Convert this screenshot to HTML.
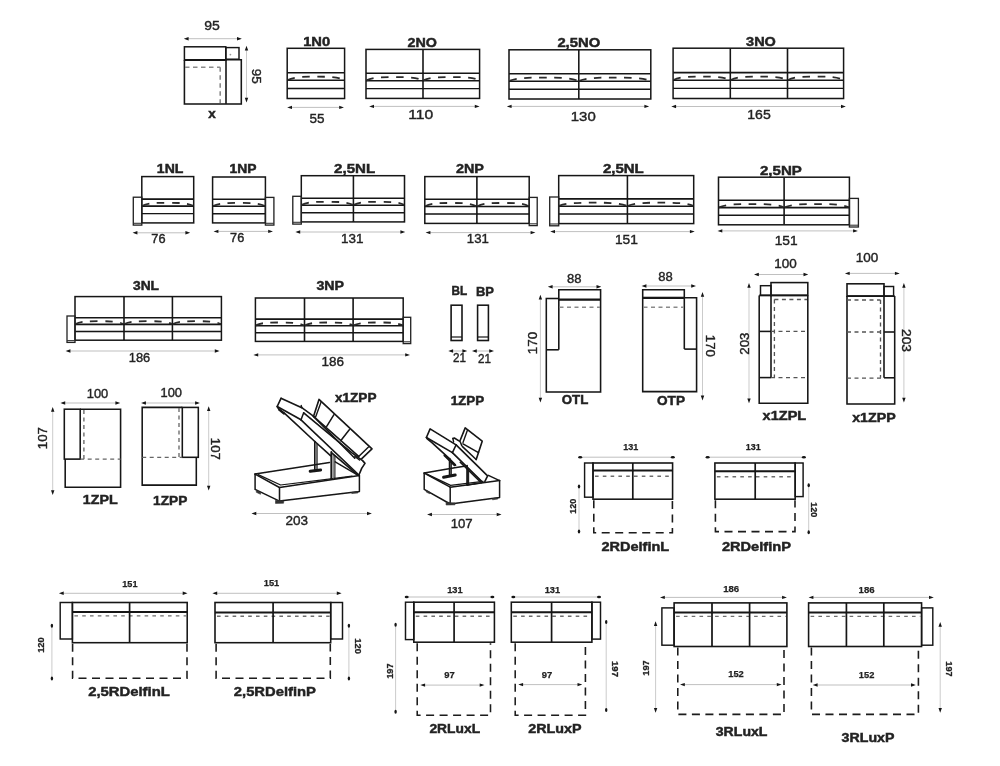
<!DOCTYPE html>
<html><head><meta charset="utf-8"><title>Modules</title>
<style>
html,body{margin:0;padding:0;background:#fff;}
body{width:1000px;height:766px;overflow:hidden;font-family:"Liberation Sans",sans-serif;}
svg{display:block;font-family:"Liberation Sans",sans-serif;}
</style></head>
<body>
<svg width="1000" height="766" viewBox="0 0 1000 766">
<defs><filter id="soft" x="-2%" y="-2%" width="104%" height="104%"><feGaussianBlur stdDeviation="0.45"/></filter></defs>
<rect width="1000" height="766" fill="#fff"/>
<g filter="url(#soft)">
<rect x="184.4" y="46.8" width="41.4" height="13.2" fill="none" stroke="#141414" stroke-width="1.50"/>
<rect x="225.8" y="47.6" width="13.2" height="11.6" fill="none" stroke="#141414" stroke-width="1.44"/>
<circle cx="230.4" cy="54.6" r="0.9" fill="#999"/>
<path d="M184.4,60 L184.4,104 L241.3,104 L241.3,59.8 L226,59.8 L226,104" fill="none" stroke="#141414" stroke-width="1.56" stroke-linejoin="miter"/>
<line x1="184.4" y1="60.0" x2="226.0" y2="60.0" stroke="#141414" stroke-width="2.16" stroke-linecap="butt"/>
<line x1="185.0" y1="67.2" x2="220.2" y2="67.2" stroke="#8a8a8a" stroke-width="1.56" stroke-dasharray="4.5 3.5" stroke-linecap="butt"/>
<line x1="220.2" y1="67.2" x2="220.2" y2="103.0" stroke="#8a8a8a" stroke-width="1.56" stroke-dasharray="4.5 3.5" stroke-linecap="butt"/>
<line x1="185.8" y1="38.7" x2="239.8" y2="38.7" stroke="#a5a5a5" stroke-width="0.70" stroke-linecap="butt"/>
<path d="M183.8,38.7 l4.8,-1.7 l0,3.4 z M241.8,38.7 l-4.8,-1.7 l0,3.4 z" fill="#141414"/>
<text x="212.0" y="30.0" font-size="13.2" stroke="#222" stroke-width="0.38" textLength="15.6" lengthAdjust="spacingAndGlyphs" text-anchor="middle" fill="#222">95</text>
<line x1="246.5" y1="47.7" x2="246.5" y2="100.5" stroke="#b5b5b5" stroke-width="0.70" stroke-linecap="butt"/>
<path d="M246.5,45.7 l-1.7,4.8 l3.4,0 z M246.5,102.5 l-1.7,-4.8 l3.4,0 z" fill="#141414"/>
<text transform="translate(257.0,76.2) rotate(90)" x="0" y="4.75" font-size="13.2" stroke="#222" stroke-width="0.38" textLength="15.0" lengthAdjust="spacingAndGlyphs" text-anchor="middle" fill="#222">95</text>
<text x="212.0" y="118.2" font-size="12" font-weight="700" stroke="#222" stroke-width="0.45" textLength="7.5" lengthAdjust="spacingAndGlyphs" text-anchor="middle" fill="#222">x</text>
<rect x="287.2" y="48.3" width="57.4" height="50.2" fill="none" stroke="#141414" stroke-width="1.50"/>
<line x1="287.2" y1="72.7" x2="344.6" y2="72.7" stroke="#141414" stroke-width="1.56" stroke-linecap="butt"/>
<line x1="287.2" y1="80.3" x2="344.6" y2="80.3" stroke="#141414" stroke-width="1.62" stroke-linecap="butt"/>
<line x1="287.2" y1="88.5" x2="344.6" y2="88.5" stroke="#141414" stroke-width="1.44" stroke-linecap="butt"/>
<path d="M287.7,80.0 C294.1,76.7 304.4,76.7 315.9,76.7 S337.7,76.7 344.1,80.0" fill="none" stroke="#2a2a2a" stroke-width="1.80" stroke-dasharray="7.5 7.5" stroke-linejoin="miter"/>
<text x="316.7" y="45.9" font-size="12.6" font-weight="700" stroke="#222" stroke-width="0.45" textLength="27.0" lengthAdjust="spacingAndGlyphs" text-anchor="middle" fill="#222">1N0</text>
<line x1="289.2" y1="107.4" x2="342.0" y2="107.4" stroke="#a5a5a5" stroke-width="0.70" stroke-linecap="butt"/>
<path d="M287.2,107.4 l4.8,-1.7 l0,3.4 z M344.0,107.4 l-4.8,-1.7 l0,3.4 z" fill="#141414"/>
<text x="317.0" y="123.0" font-size="13.2" stroke="#222" stroke-width="0.38" textLength="15.0" lengthAdjust="spacingAndGlyphs" text-anchor="middle" fill="#222">55</text>
<rect x="366.0" y="49.4" width="113.6" height="49.0" fill="none" stroke="#141414" stroke-width="1.50"/>
<line x1="366.0" y1="73.2" x2="479.6" y2="73.2" stroke="#141414" stroke-width="1.56" stroke-linecap="butt"/>
<line x1="366.0" y1="80.7" x2="479.6" y2="80.7" stroke="#141414" stroke-width="1.62" stroke-linecap="butt"/>
<line x1="366.0" y1="88.6" x2="479.6" y2="88.6" stroke="#141414" stroke-width="1.44" stroke-linecap="butt"/>
<line x1="423.0" y1="49.4" x2="423.0" y2="98.4" stroke="#141414" stroke-width="1.56" stroke-linecap="butt"/>
<path d="M366.5,80.4 C372.8,77.1 383.1,77.1 394.5,77.1 S416.2,77.1 422.5,80.4" fill="none" stroke="#2a2a2a" stroke-width="1.80" stroke-dasharray="7.5 7.5" stroke-linejoin="miter"/>
<path d="M423.5,80.4 C429.8,77.1 440.0,77.1 451.3,77.1 S472.8,77.1 479.1,80.4" fill="none" stroke="#2a2a2a" stroke-width="1.80" stroke-dasharray="7.5 7.5" stroke-linejoin="miter"/>
<text x="422.3" y="47.0" font-size="12.6" font-weight="700" stroke="#222" stroke-width="0.45" textLength="29.4" lengthAdjust="spacingAndGlyphs" text-anchor="middle" fill="#222">2NO</text>
<line x1="371.2" y1="106.4" x2="477.6" y2="106.4" stroke="#a5a5a5" stroke-width="0.70" stroke-linecap="butt"/>
<path d="M369.2,106.4 l4.8,-1.7 l0,3.4 z M479.6,106.4 l-4.8,-1.7 l0,3.4 z" fill="#141414"/>
<text x="420.7" y="119.0" font-size="13.2" stroke="#222" stroke-width="0.38" textLength="25.0" lengthAdjust="spacingAndGlyphs" text-anchor="middle" fill="#222">110</text>
<rect x="509.0" y="49.8" width="141.8" height="49.2" fill="none" stroke="#141414" stroke-width="1.50"/>
<line x1="509.0" y1="73.7" x2="650.8" y2="73.7" stroke="#141414" stroke-width="1.56" stroke-linecap="butt"/>
<line x1="509.0" y1="81.2" x2="650.8" y2="81.2" stroke="#141414" stroke-width="1.62" stroke-linecap="butt"/>
<line x1="509.0" y1="89.2" x2="650.8" y2="89.2" stroke="#141414" stroke-width="1.44" stroke-linecap="butt"/>
<line x1="578.8" y1="49.8" x2="578.8" y2="99.0" stroke="#141414" stroke-width="1.56" stroke-linecap="butt"/>
<path d="M509.5,80.9 C517.4,77.6 529.9,77.6 543.9,77.6 S570.4,77.6 578.3,80.9" fill="none" stroke="#2a2a2a" stroke-width="1.80" stroke-dasharray="7.5 7.5" stroke-linejoin="miter"/>
<path d="M579.3,80.9 C587.4,77.6 600.4,77.6 614.8,77.6 S642.2,77.6 650.3,80.9" fill="none" stroke="#2a2a2a" stroke-width="1.80" stroke-dasharray="7.5 7.5" stroke-linejoin="miter"/>
<text x="578.8" y="46.6" font-size="12.6" font-weight="700" stroke="#222" stroke-width="0.45" textLength="42.8" lengthAdjust="spacingAndGlyphs" text-anchor="middle" fill="#222">2,5NO</text>
<line x1="508.8" y1="106.4" x2="647.2" y2="106.4" stroke="#a5a5a5" stroke-width="0.70" stroke-linecap="butt"/>
<path d="M506.8,106.4 l4.8,-1.7 l0,3.4 z M649.2,106.4 l-4.8,-1.7 l0,3.4 z" fill="#141414"/>
<text x="583.3" y="120.5" font-size="13.2" stroke="#222" stroke-width="0.38" textLength="25.0" lengthAdjust="spacingAndGlyphs" text-anchor="middle" fill="#222">130</text>
<rect x="673.1" y="48.2" width="170.5" height="50.3" fill="none" stroke="#141414" stroke-width="1.50"/>
<line x1="673.1" y1="72.6" x2="843.6" y2="72.6" stroke="#141414" stroke-width="1.56" stroke-linecap="butt"/>
<line x1="673.1" y1="80.3" x2="843.6" y2="80.3" stroke="#141414" stroke-width="1.62" stroke-linecap="butt"/>
<line x1="673.1" y1="88.4" x2="843.6" y2="88.4" stroke="#141414" stroke-width="1.44" stroke-linecap="butt"/>
<line x1="730.3" y1="48.2" x2="730.3" y2="98.5" stroke="#141414" stroke-width="1.56" stroke-linecap="butt"/>
<line x1="787.5" y1="48.2" x2="787.5" y2="98.5" stroke="#141414" stroke-width="1.56" stroke-linecap="butt"/>
<path d="M673.6,80.0 C680.0,76.6 690.3,76.6 701.7,76.6 S723.4,76.6 729.8,80.0" fill="none" stroke="#2a2a2a" stroke-width="1.80" stroke-dasharray="7.5 7.5" stroke-linejoin="miter"/>
<path d="M730.8,80.0 C737.2,76.6 747.5,76.6 758.9,76.6 S780.6,76.6 787.0,80.0" fill="none" stroke="#2a2a2a" stroke-width="1.80" stroke-dasharray="7.5 7.5" stroke-linejoin="miter"/>
<path d="M788.0,80.0 C794.2,76.6 804.3,76.6 815.5,76.6 S836.9,76.6 843.1,80.0" fill="none" stroke="#2a2a2a" stroke-width="1.80" stroke-dasharray="7.5 7.5" stroke-linejoin="miter"/>
<text x="761.0" y="46.4" font-size="12.6" font-weight="700" stroke="#222" stroke-width="0.45" textLength="29.8" lengthAdjust="spacingAndGlyphs" text-anchor="middle" fill="#222">3NO</text>
<line x1="673.3" y1="106.5" x2="843.8" y2="106.5" stroke="#a5a5a5" stroke-width="0.70" stroke-linecap="butt"/>
<path d="M671.3,106.5 l4.8,-1.7 l0,3.4 z M845.8,106.5 l-4.8,-1.7 l0,3.4 z" fill="#141414"/>
<text x="759.0" y="118.8" font-size="13.2" stroke="#222" stroke-width="0.38" textLength="23.5" lengthAdjust="spacingAndGlyphs" text-anchor="middle" fill="#222">165</text>
<rect x="141.8" y="176.6" width="51.9" height="46.3" fill="none" stroke="#141414" stroke-width="1.50"/>
<line x1="141.8" y1="199.1" x2="193.7" y2="199.1" stroke="#141414" stroke-width="1.56" stroke-linecap="butt"/>
<line x1="141.8" y1="206.1" x2="193.7" y2="206.1" stroke="#141414" stroke-width="1.62" stroke-linecap="butt"/>
<line x1="141.8" y1="213.6" x2="193.7" y2="213.6" stroke="#141414" stroke-width="1.44" stroke-linecap="butt"/>
<path d="M142.3,205.8 C148.0,202.8 157.4,202.8 167.8,202.8 S187.5,202.8 193.2,205.8" fill="none" stroke="#2a2a2a" stroke-width="1.80" stroke-dasharray="7.5 7.5" stroke-linejoin="miter"/>
<rect x="133.3" y="197.2" width="8.5" height="27.9" fill="none" stroke="#222" stroke-width="1.32"/>
<line x1="133.3" y1="223.3" x2="141.8" y2="223.3" stroke="#333" stroke-width="1.08" stroke-linecap="butt"/>
<text x="170.1" y="172.7" font-size="12.6" font-weight="700" stroke="#222" stroke-width="0.45" textLength="26.5" lengthAdjust="spacingAndGlyphs" text-anchor="middle" fill="#222">1NL</text>
<line x1="134.6" y1="232.8" x2="188.2" y2="232.8" stroke="#a5a5a5" stroke-width="0.70" stroke-linecap="butt"/>
<path d="M132.6,232.8 l4.8,-1.7 l0,3.4 z M190.2,232.8 l-4.8,-1.7 l0,3.4 z" fill="#141414"/>
<text x="158.4" y="243.0" font-size="13.2" stroke="#222" stroke-width="0.38" textLength="14.2" lengthAdjust="spacingAndGlyphs" text-anchor="middle" fill="#222">76</text>
<rect x="212.6" y="177.0" width="52.8" height="45.9" fill="none" stroke="#141414" stroke-width="1.50"/>
<line x1="212.6" y1="199.3" x2="265.4" y2="199.3" stroke="#141414" stroke-width="1.56" stroke-linecap="butt"/>
<line x1="212.6" y1="206.3" x2="265.4" y2="206.3" stroke="#141414" stroke-width="1.62" stroke-linecap="butt"/>
<line x1="212.6" y1="213.7" x2="265.4" y2="213.7" stroke="#141414" stroke-width="1.44" stroke-linecap="butt"/>
<path d="M213.1,206.0 C218.9,202.9 228.4,202.9 239.0,202.9 S259.1,202.9 264.9,206.0" fill="none" stroke="#2a2a2a" stroke-width="1.80" stroke-dasharray="7.5 7.5" stroke-linejoin="miter"/>
<rect x="265.4" y="197.4" width="8.5" height="27.7" fill="none" stroke="#222" stroke-width="1.32"/>
<line x1="265.4" y1="223.3" x2="273.9" y2="223.3" stroke="#333" stroke-width="1.08" stroke-linecap="butt"/>
<text x="243.0" y="173.0" font-size="12.6" font-weight="700" stroke="#222" stroke-width="0.45" textLength="27.0" lengthAdjust="spacingAndGlyphs" text-anchor="middle" fill="#222">1NP</text>
<line x1="215.6" y1="231.4" x2="271.0" y2="231.4" stroke="#a5a5a5" stroke-width="0.70" stroke-linecap="butt"/>
<path d="M213.6,231.4 l4.8,-1.7 l0,3.4 z M273.0,231.4 l-4.8,-1.7 l0,3.4 z" fill="#141414"/>
<text x="237.2" y="242.0" font-size="13.2" stroke="#222" stroke-width="0.38" textLength="14.2" lengthAdjust="spacingAndGlyphs" text-anchor="middle" fill="#222">76</text>
<rect x="301.3" y="175.7" width="103.2" height="46.2" fill="none" stroke="#141414" stroke-width="1.50"/>
<line x1="301.3" y1="198.2" x2="404.5" y2="198.2" stroke="#141414" stroke-width="1.56" stroke-linecap="butt"/>
<line x1="301.3" y1="205.2" x2="404.5" y2="205.2" stroke="#141414" stroke-width="1.62" stroke-linecap="butt"/>
<line x1="301.3" y1="212.7" x2="404.5" y2="212.7" stroke="#141414" stroke-width="1.44" stroke-linecap="butt"/>
<line x1="353.4" y1="175.7" x2="353.4" y2="221.9" stroke="#141414" stroke-width="1.56" stroke-linecap="butt"/>
<path d="M301.8,204.9 C307.6,201.8 316.9,201.8 327.4,201.8 S347.1,201.8 352.9,204.9" fill="none" stroke="#2a2a2a" stroke-width="1.80" stroke-dasharray="7.5 7.5" stroke-linejoin="miter"/>
<path d="M353.9,204.9 C359.5,201.8 368.7,201.8 378.9,201.8 S398.4,201.8 404.0,204.9" fill="none" stroke="#2a2a2a" stroke-width="1.80" stroke-dasharray="7.5 7.5" stroke-linejoin="miter"/>
<rect x="292.8" y="196.3" width="8.5" height="27.8" fill="none" stroke="#222" stroke-width="1.32"/>
<line x1="292.8" y1="222.3" x2="301.3" y2="222.3" stroke="#333" stroke-width="1.08" stroke-linecap="butt"/>
<text x="354.6" y="172.7" font-size="12.6" font-weight="700" stroke="#222" stroke-width="0.45" textLength="41.0" lengthAdjust="spacingAndGlyphs" text-anchor="middle" fill="#222">2,5NL</text>
<line x1="297.4" y1="232.0" x2="403.2" y2="232.0" stroke="#a5a5a5" stroke-width="0.70" stroke-linecap="butt"/>
<path d="M295.4,232.0 l4.8,-1.7 l0,3.4 z M405.2,232.0 l-4.8,-1.7 l0,3.4 z" fill="#141414"/>
<text x="352.3" y="243.2" font-size="13.2" stroke="#222" stroke-width="0.38" textLength="22.5" lengthAdjust="spacingAndGlyphs" text-anchor="middle" fill="#222">131</text>
<rect x="424.8" y="176.6" width="104.4" height="46.8" fill="none" stroke="#141414" stroke-width="1.50"/>
<line x1="424.8" y1="199.3" x2="529.2" y2="199.3" stroke="#141414" stroke-width="1.56" stroke-linecap="butt"/>
<line x1="424.8" y1="206.5" x2="529.2" y2="206.5" stroke="#141414" stroke-width="1.62" stroke-linecap="butt"/>
<line x1="424.8" y1="214.0" x2="529.2" y2="214.0" stroke="#141414" stroke-width="1.44" stroke-linecap="butt"/>
<line x1="476.9" y1="176.6" x2="476.9" y2="223.4" stroke="#141414" stroke-width="1.56" stroke-linecap="butt"/>
<path d="M425.3,206.2 C431.1,203.0 440.4,203.0 450.9,203.0 S470.6,203.0 476.4,206.2" fill="none" stroke="#2a2a2a" stroke-width="1.80" stroke-dasharray="7.5 7.5" stroke-linejoin="miter"/>
<path d="M477.4,206.2 C483.2,203.0 492.6,203.0 503.1,203.0 S522.9,203.0 528.7,206.2" fill="none" stroke="#2a2a2a" stroke-width="1.80" stroke-dasharray="7.5 7.5" stroke-linejoin="miter"/>
<rect x="529.2" y="197.4" width="8.0" height="28.2" fill="none" stroke="#222" stroke-width="1.32"/>
<line x1="529.2" y1="223.8" x2="537.2" y2="223.8" stroke="#333" stroke-width="1.08" stroke-linecap="butt"/>
<text x="469.9" y="173.0" font-size="12.6" font-weight="700" stroke="#222" stroke-width="0.45" textLength="28.0" lengthAdjust="spacingAndGlyphs" text-anchor="middle" fill="#222">2NP</text>
<line x1="427.6" y1="232.6" x2="533.4" y2="232.6" stroke="#a5a5a5" stroke-width="0.70" stroke-linecap="butt"/>
<path d="M425.6,232.6 l4.8,-1.7 l0,3.4 z M535.4,232.6 l-4.8,-1.7 l0,3.4 z" fill="#141414"/>
<text x="477.8" y="243.4" font-size="13.2" stroke="#222" stroke-width="0.38" textLength="22.0" lengthAdjust="spacingAndGlyphs" text-anchor="middle" fill="#222">131</text>
<rect x="558.7" y="175.6" width="135.0" height="48.0" fill="none" stroke="#141414" stroke-width="1.50"/>
<line x1="558.7" y1="198.9" x2="693.7" y2="198.9" stroke="#141414" stroke-width="1.56" stroke-linecap="butt"/>
<line x1="558.7" y1="206.2" x2="693.7" y2="206.2" stroke="#141414" stroke-width="1.62" stroke-linecap="butt"/>
<line x1="558.7" y1="214.0" x2="693.7" y2="214.0" stroke="#141414" stroke-width="1.44" stroke-linecap="butt"/>
<line x1="627.4" y1="175.6" x2="627.4" y2="223.6" stroke="#141414" stroke-width="1.56" stroke-linecap="butt"/>
<path d="M559.2,205.9 C566.9,202.7 579.3,202.7 593.0,202.7 S619.2,202.7 626.9,205.9" fill="none" stroke="#2a2a2a" stroke-width="1.80" stroke-dasharray="7.5 7.5" stroke-linejoin="miter"/>
<path d="M627.9,205.9 C635.4,202.7 647.3,202.7 660.5,202.7 S685.7,202.7 693.2,205.9" fill="none" stroke="#2a2a2a" stroke-width="1.80" stroke-dasharray="7.5 7.5" stroke-linejoin="miter"/>
<rect x="549.7" y="197.0" width="9.0" height="28.8" fill="none" stroke="#222" stroke-width="1.32"/>
<line x1="549.7" y1="224.0" x2="558.7" y2="224.0" stroke="#333" stroke-width="1.08" stroke-linecap="butt"/>
<text x="623.3" y="173.0" font-size="12.6" font-weight="700" stroke="#222" stroke-width="0.45" textLength="40.8" lengthAdjust="spacingAndGlyphs" text-anchor="middle" fill="#222">2,5NL</text>
<line x1="552.2" y1="231.6" x2="692.7" y2="231.6" stroke="#a5a5a5" stroke-width="0.70" stroke-linecap="butt"/>
<path d="M550.2,231.6 l4.8,-1.7 l0,3.4 z M694.7,231.6 l-4.8,-1.7 l0,3.4 z" fill="#141414"/>
<text x="626.4" y="243.6" font-size="13.2" stroke="#222" stroke-width="0.38" textLength="23.0" lengthAdjust="spacingAndGlyphs" text-anchor="middle" fill="#222">151</text>
<rect x="718.5" y="177.2" width="130.9" height="47.6" fill="none" stroke="#141414" stroke-width="1.50"/>
<line x1="718.5" y1="200.3" x2="849.4" y2="200.3" stroke="#141414" stroke-width="1.56" stroke-linecap="butt"/>
<line x1="718.5" y1="207.6" x2="849.4" y2="207.6" stroke="#141414" stroke-width="1.62" stroke-linecap="butt"/>
<line x1="718.5" y1="215.3" x2="849.4" y2="215.3" stroke="#141414" stroke-width="1.44" stroke-linecap="butt"/>
<line x1="784.1" y1="177.2" x2="784.1" y2="224.8" stroke="#141414" stroke-width="1.56" stroke-linecap="butt"/>
<path d="M719.0,207.3 C726.4,204.1 738.2,204.1 751.3,204.1 S776.2,204.1 783.6,207.3" fill="none" stroke="#2a2a2a" stroke-width="1.80" stroke-dasharray="7.5 7.5" stroke-linejoin="miter"/>
<path d="M784.6,207.3 C791.9,204.1 803.7,204.1 816.8,204.1 S841.6,204.1 848.9,207.3" fill="none" stroke="#2a2a2a" stroke-width="1.80" stroke-dasharray="7.5 7.5" stroke-linejoin="miter"/>
<rect x="849.4" y="198.4" width="9.0" height="28.6" fill="none" stroke="#222" stroke-width="1.32"/>
<line x1="849.4" y1="225.2" x2="858.4" y2="225.2" stroke="#333" stroke-width="1.08" stroke-linecap="butt"/>
<text x="780.9" y="174.5" font-size="12.6" font-weight="700" stroke="#222" stroke-width="0.45" textLength="41.8" lengthAdjust="spacingAndGlyphs" text-anchor="middle" fill="#222">2,5NP</text>
<line x1="719.5" y1="230.9" x2="855.9" y2="230.9" stroke="#a5a5a5" stroke-width="0.70" stroke-linecap="butt"/>
<path d="M717.5,230.9 l4.8,-1.7 l0,3.4 z M857.9,230.9 l-4.8,-1.7 l0,3.4 z" fill="#141414"/>
<text x="786.2" y="245.2" font-size="13.2" stroke="#222" stroke-width="0.38" textLength="23.0" lengthAdjust="spacingAndGlyphs" text-anchor="middle" fill="#222">151</text>
<rect x="75.0" y="296.6" width="146.4" height="43.6" fill="none" stroke="#141414" stroke-width="1.50"/>
<line x1="75.0" y1="317.8" x2="221.4" y2="317.8" stroke="#141414" stroke-width="1.56" stroke-linecap="butt"/>
<line x1="75.0" y1="324.4" x2="221.4" y2="324.4" stroke="#141414" stroke-width="1.62" stroke-linecap="butt"/>
<line x1="75.0" y1="331.5" x2="221.4" y2="331.5" stroke="#141414" stroke-width="1.44" stroke-linecap="butt"/>
<line x1="124.0" y1="296.6" x2="124.0" y2="340.2" stroke="#141414" stroke-width="1.56" stroke-linecap="butt"/>
<line x1="172.4" y1="296.6" x2="172.4" y2="340.2" stroke="#141414" stroke-width="1.56" stroke-linecap="butt"/>
<path d="M75.5,324.1 C80.9,321.2 89.7,321.2 99.5,321.2 S118.1,321.2 123.5,324.1" fill="none" stroke="#2a2a2a" stroke-width="1.80" stroke-dasharray="7.5 7.5" stroke-linejoin="miter"/>
<path d="M124.5,324.1 C129.8,321.2 138.5,321.2 148.2,321.2 S166.6,321.2 171.9,324.1" fill="none" stroke="#2a2a2a" stroke-width="1.80" stroke-dasharray="7.5 7.5" stroke-linejoin="miter"/>
<path d="M172.9,324.1 C178.3,321.2 187.1,321.2 196.9,321.2 S215.5,321.2 220.9,324.1" fill="none" stroke="#2a2a2a" stroke-width="1.80" stroke-dasharray="7.5 7.5" stroke-linejoin="miter"/>
<rect x="67.0" y="316.0" width="8.0" height="26.4" fill="none" stroke="#222" stroke-width="1.32"/>
<line x1="67.0" y1="340.6" x2="75.0" y2="340.6" stroke="#333" stroke-width="1.08" stroke-linecap="butt"/>
<text x="146.0" y="290.0" font-size="12.6" font-weight="700" stroke="#222" stroke-width="0.45" textLength="26.0" lengthAdjust="spacingAndGlyphs" text-anchor="middle" fill="#222">3NL</text>
<line x1="67.6" y1="351.0" x2="217.6" y2="351.0" stroke="#a5a5a5" stroke-width="0.70" stroke-linecap="butt"/>
<path d="M65.6,351.0 l4.8,-1.7 l0,3.4 z M219.6,351.0 l-4.8,-1.7 l0,3.4 z" fill="#141414"/>
<text x="139.5" y="361.8" font-size="13.2" stroke="#222" stroke-width="0.38" textLength="21.5" lengthAdjust="spacingAndGlyphs" text-anchor="middle" fill="#222">186</text>
<rect x="255.4" y="298.0" width="147.8" height="43.4" fill="none" stroke="#141414" stroke-width="1.50"/>
<line x1="255.4" y1="319.1" x2="403.2" y2="319.1" stroke="#141414" stroke-width="1.56" stroke-linecap="butt"/>
<line x1="255.4" y1="325.7" x2="403.2" y2="325.7" stroke="#141414" stroke-width="1.62" stroke-linecap="butt"/>
<line x1="255.4" y1="332.7" x2="403.2" y2="332.7" stroke="#141414" stroke-width="1.44" stroke-linecap="butt"/>
<line x1="304.5" y1="298.0" x2="304.5" y2="341.4" stroke="#141414" stroke-width="1.56" stroke-linecap="butt"/>
<line x1="353.1" y1="298.0" x2="353.1" y2="341.4" stroke="#141414" stroke-width="1.56" stroke-linecap="butt"/>
<path d="M255.9,325.4 C261.3,322.5 270.1,322.5 279.9,322.5 S298.6,322.5 304.0,325.4" fill="none" stroke="#2a2a2a" stroke-width="1.80" stroke-dasharray="7.5 7.5" stroke-linejoin="miter"/>
<path d="M305.0,325.4 C310.3,322.5 319.1,322.5 328.8,322.5 S347.3,322.5 352.6,325.4" fill="none" stroke="#2a2a2a" stroke-width="1.80" stroke-dasharray="7.5 7.5" stroke-linejoin="miter"/>
<path d="M353.6,325.4 C359.1,322.5 368.1,322.5 378.1,322.5 S397.2,322.5 402.7,325.4" fill="none" stroke="#2a2a2a" stroke-width="1.80" stroke-dasharray="7.5 7.5" stroke-linejoin="miter"/>
<rect x="403.2" y="317.3" width="7.5" height="26.3" fill="none" stroke="#222" stroke-width="1.32"/>
<line x1="403.2" y1="341.8" x2="410.7" y2="341.8" stroke="#333" stroke-width="1.08" stroke-linecap="butt"/>
<text x="330.2" y="289.6" font-size="12.6" font-weight="700" stroke="#222" stroke-width="0.45" textLength="27.6" lengthAdjust="spacingAndGlyphs" text-anchor="middle" fill="#222">3NP</text>
<line x1="255.4" y1="354.9" x2="408.0" y2="354.9" stroke="#a5a5a5" stroke-width="0.70" stroke-linecap="butt"/>
<path d="M253.4,354.9 l4.8,-1.7 l0,3.4 z M410.0,354.9 l-4.8,-1.7 l0,3.4 z" fill="#141414"/>
<text x="332.8" y="366.2" font-size="13.2" stroke="#222" stroke-width="0.38" textLength="22.5" lengthAdjust="spacingAndGlyphs" text-anchor="middle" fill="#222">186</text>
<rect x="451.1" y="305.2" width="10.9" height="35.3" fill="none" stroke="#141414" stroke-width="1.56"/>
<line x1="451.1" y1="337.0" x2="462.0" y2="337.0" stroke="#141414" stroke-width="1.20" stroke-linecap="butt"/>
<rect x="477.6" y="305.2" width="10.8" height="35.3" fill="none" stroke="#141414" stroke-width="1.56"/>
<line x1="477.6" y1="337.0" x2="488.4" y2="337.0" stroke="#141414" stroke-width="1.20" stroke-linecap="butt"/>
<text x="459.4" y="295.0" font-size="12.6" font-weight="700" stroke="#222" stroke-width="0.45" textLength="15.7" lengthAdjust="spacingAndGlyphs" text-anchor="middle" fill="#222">BL</text>
<text x="485.0" y="296.0" font-size="12.6" font-weight="700" stroke="#222" stroke-width="0.45" textLength="18.0" lengthAdjust="spacingAndGlyphs" text-anchor="middle" fill="#222">BP</text>
<line x1="450.3" y1="351.0" x2="465.2" y2="351.0" stroke="#a5a5a5" stroke-width="0.70" stroke-linecap="butt"/>
<path d="M448.3,351.0 l4.8,-1.7 l0,3.4 z M467.2,351.0 l-4.8,-1.7 l0,3.4 z" fill="#141414"/>
<line x1="474.0" y1="351.0" x2="492.0" y2="351.0" stroke="#a5a5a5" stroke-width="0.70" stroke-linecap="butt"/>
<path d="M472.0,351.0 l4.8,-1.7 l0,3.4 z M494.0,351.0 l-4.8,-1.7 l0,3.4 z" fill="#141414"/>
<text x="459.4" y="361.6" font-size="13.2" stroke="#222" stroke-width="0.38" textLength="13.0" lengthAdjust="spacingAndGlyphs" text-anchor="middle" fill="#222">21</text>
<text x="484.5" y="363.0" font-size="13.2" stroke="#222" stroke-width="0.38" textLength="13.0" lengthAdjust="spacingAndGlyphs" text-anchor="middle" fill="#222">21</text>
<path d="M558.8,349.8 L558.8,289.7 L600.6,289.7 L600.6,392 L546.3,392 L546.3,298.5 L558.8,298.5" fill="none" stroke="#141414" stroke-width="1.56" stroke-linejoin="miter"/>
<line x1="546.3" y1="349.8" x2="558.8" y2="349.8" stroke="#141414" stroke-width="1.56" stroke-linecap="butt"/>
<line x1="558.8" y1="299.6" x2="600.6" y2="299.6" stroke="#141414" stroke-width="2.40" stroke-linecap="butt"/>
<line x1="559.5" y1="307.3" x2="600.0" y2="307.3" stroke="#8a8a8a" stroke-width="1.44" stroke-dasharray="4 3.5" stroke-linecap="butt"/>
<line x1="549.8" y1="286.8" x2="599.3" y2="286.8" stroke="#a5a5a5" stroke-width="0.70" stroke-linecap="butt"/>
<path d="M547.8,286.8 l4.8,-1.7 l0,3.4 z M601.3,286.8 l-4.8,-1.7 l0,3.4 z" fill="#141414"/>
<text x="574.2" y="283.2" font-size="12.6" stroke="#222" stroke-width="0.38" textLength="14.5" lengthAdjust="spacingAndGlyphs" text-anchor="middle" fill="#222">88</text>
<line x1="540.4" y1="296.8" x2="540.4" y2="400.6" stroke="#b5b5b5" stroke-width="0.70" stroke-linecap="butt"/>
<path d="M540.4,294.8 l-1.7,4.8 l3.4,0 z M540.4,402.6 l-1.7,-4.8 l3.4,0 z" fill="#141414"/>
<text transform="translate(532.0,343.0) rotate(-90)" x="0" y="4.54" font-size="12.6" stroke="#222" stroke-width="0.38" textLength="22.5" lengthAdjust="spacingAndGlyphs" text-anchor="middle" fill="#222">170</text>
<text x="575.0" y="404.2" font-size="12.6" font-weight="700" stroke="#222" stroke-width="0.45" textLength="26.5" lengthAdjust="spacingAndGlyphs" text-anchor="middle" fill="#222">OTL</text>
<path d="M684.3,349.1 L684.3,289.7 L642.7,289.7 L642.7,391.6 L696.6,391.6 L696.6,297.8 L642.7,297.8" fill="none" stroke="#141414" stroke-width="1.56" stroke-linejoin="miter"/>
<line x1="684.3" y1="349.1" x2="696.6" y2="349.1" stroke="#141414" stroke-width="1.56" stroke-linecap="butt"/>
<line x1="642.7" y1="297.8" x2="684.3" y2="297.8" stroke="#141414" stroke-width="2.16" stroke-linecap="butt"/>
<line x1="643.5" y1="307.3" x2="684.0" y2="307.3" stroke="#8a8a8a" stroke-width="1.44" stroke-dasharray="4 3.5" stroke-linecap="butt"/>
<line x1="643.6" y1="286.0" x2="694.0" y2="286.0" stroke="#a5a5a5" stroke-width="0.70" stroke-linecap="butt"/>
<path d="M641.6,286.0 l4.8,-1.7 l0,3.4 z M696.0,286.0 l-4.8,-1.7 l0,3.4 z" fill="#141414"/>
<text x="665.6" y="281.4" font-size="12.6" stroke="#222" stroke-width="0.38" textLength="14.5" lengthAdjust="spacingAndGlyphs" text-anchor="middle" fill="#222">88</text>
<line x1="702.5" y1="294.0" x2="702.5" y2="398.4" stroke="#b5b5b5" stroke-width="0.70" stroke-linecap="butt"/>
<path d="M702.5,292.0 l-1.7,4.8 l3.4,0 z M702.5,400.4 l-1.7,-4.8 l3.4,0 z" fill="#141414"/>
<text transform="translate(710.7,345.8) rotate(90)" x="0" y="4.54" font-size="12.6" stroke="#222" stroke-width="0.38" textLength="22.0" lengthAdjust="spacingAndGlyphs" text-anchor="middle" fill="#222">170</text>
<text x="671.0" y="405.2" font-size="12.6" font-weight="700" stroke="#222" stroke-width="0.45" textLength="28.0" lengthAdjust="spacingAndGlyphs" text-anchor="middle" fill="#222">OTP</text>
<rect x="771.0" y="282.6" width="36.8" height="12.8" fill="none" stroke="#141414" stroke-width="1.56"/>
<rect x="760.5" y="285.7" width="10.5" height="9.7" fill="none" stroke="#141414" stroke-width="1.44"/>
<path d="M759.2,295.4 L759.2,403.2 L807.8,403.2 L807.8,295.4" fill="none" stroke="#141414" stroke-width="1.56" stroke-linejoin="miter"/>
<line x1="759.2" y1="295.4" x2="807.8" y2="295.4" stroke="#141414" stroke-width="1.80" stroke-linecap="butt"/>
<line x1="771.0" y1="295.4" x2="771.0" y2="377.6" stroke="#141414" stroke-width="1.56" stroke-linecap="butt"/>
<line x1="759.2" y1="331.4" x2="771.0" y2="331.4" stroke="#141414" stroke-width="1.56" stroke-linecap="butt"/>
<line x1="759.2" y1="377.6" x2="771.0" y2="377.6" stroke="#141414" stroke-width="1.56" stroke-linecap="butt"/>
<line x1="774.4" y1="299.5" x2="774.4" y2="377.6" stroke="#555" stroke-width="1.32" stroke-dasharray="4 3.5" stroke-linecap="butt"/>
<line x1="774.4" y1="299.5" x2="807.0" y2="299.5" stroke="#555" stroke-width="1.32" stroke-dasharray="4 3.5" stroke-linecap="butt"/>
<line x1="771.0" y1="331.4" x2="807.8" y2="331.4" stroke="#555" stroke-width="1.32" stroke-dasharray="4 3.5" stroke-linecap="butt"/>
<line x1="771.0" y1="377.6" x2="807.8" y2="377.6" stroke="#555" stroke-width="1.32" stroke-dasharray="4 3.5" stroke-linecap="butt"/>
<line x1="756.0" y1="274.5" x2="806.3" y2="274.5" stroke="#a5a5a5" stroke-width="0.70" stroke-linecap="butt"/>
<path d="M754.0,274.5 l4.8,-1.7 l0,3.4 z M808.3,274.5 l-4.8,-1.7 l0,3.4 z" fill="#141414"/>
<text x="785.6" y="268.2" font-size="12.3" stroke="#222" stroke-width="0.38" textLength="22.5" lengthAdjust="spacingAndGlyphs" text-anchor="middle" fill="#222">100</text>
<line x1="749.0" y1="285.0" x2="749.0" y2="401.2" stroke="#b5b5b5" stroke-width="0.70" stroke-linecap="butt"/>
<path d="M749.0,283.0 l-1.7,4.8 l3.4,0 z M749.0,403.2 l-1.7,-4.8 l3.4,0 z" fill="#141414"/>
<text transform="translate(744.4,343.7) rotate(-90)" x="0" y="4.43" font-size="12.3" stroke="#222" stroke-width="0.38" textLength="22.0" lengthAdjust="spacingAndGlyphs" text-anchor="middle" fill="#222">203</text>
<text x="784.4" y="419.6" font-size="12.6" font-weight="700" stroke="#222" stroke-width="0.45" textLength="43.6" lengthAdjust="spacingAndGlyphs" text-anchor="middle" fill="#222">x1ZPL</text>
<rect x="847.0" y="283.8" width="37.0" height="12.3" fill="none" stroke="#141414" stroke-width="1.56"/>
<rect x="884.0" y="286.5" width="9.6" height="9.6" fill="none" stroke="#141414" stroke-width="1.44"/>
<path d="M847,296.1 L847,404 L894.7,404 L894.7,296.1" fill="none" stroke="#141414" stroke-width="1.56" stroke-linejoin="miter"/>
<line x1="847.0" y1="296.1" x2="894.7" y2="296.1" stroke="#141414" stroke-width="1.80" stroke-linecap="butt"/>
<line x1="884.0" y1="296.1" x2="884.0" y2="377.8" stroke="#141414" stroke-width="1.56" stroke-linecap="butt"/>
<line x1="884.0" y1="332.0" x2="894.7" y2="332.0" stroke="#141414" stroke-width="1.56" stroke-linecap="butt"/>
<line x1="884.0" y1="377.8" x2="894.7" y2="377.8" stroke="#141414" stroke-width="1.56" stroke-linecap="butt"/>
<line x1="880.5" y1="300.0" x2="880.5" y2="377.8" stroke="#555" stroke-width="1.32" stroke-dasharray="4 3.5" stroke-linecap="butt"/>
<line x1="847.0" y1="300.0" x2="880.5" y2="300.0" stroke="#555" stroke-width="1.32" stroke-dasharray="4 3.5" stroke-linecap="butt"/>
<line x1="847.0" y1="332.0" x2="884.0" y2="332.0" stroke="#555" stroke-width="1.32" stroke-dasharray="4 3.5" stroke-linecap="butt"/>
<line x1="847.0" y1="378.2" x2="884.0" y2="378.2" stroke="#555" stroke-width="1.32" stroke-dasharray="4 3.5" stroke-linecap="butt"/>
<line x1="846.9" y1="273.4" x2="897.7" y2="273.4" stroke="#a5a5a5" stroke-width="0.70" stroke-linecap="butt"/>
<path d="M844.9,273.4 l4.8,-1.7 l0,3.4 z M899.7,273.4 l-4.8,-1.7 l0,3.4 z" fill="#141414"/>
<text x="867.0" y="262.2" font-size="12.3" stroke="#222" stroke-width="0.38" textLength="22.5" lengthAdjust="spacingAndGlyphs" text-anchor="middle" fill="#222">100</text>
<line x1="903.9" y1="285.0" x2="903.9" y2="400.6" stroke="#b5b5b5" stroke-width="0.70" stroke-linecap="butt"/>
<path d="M903.9,283.0 l-1.7,4.8 l3.4,0 z M903.9,402.6 l-1.7,-4.8 l3.4,0 z" fill="#141414"/>
<text transform="translate(906.2,340.5) rotate(90)" x="0" y="4.43" font-size="12.3" stroke="#222" stroke-width="0.38" textLength="23.0" lengthAdjust="spacingAndGlyphs" text-anchor="middle" fill="#222">203</text>
<text x="874.0" y="421.6" font-size="12.6" font-weight="700" stroke="#222" stroke-width="0.45" textLength="43.6" lengthAdjust="spacingAndGlyphs" text-anchor="middle" fill="#222">x1ZPP</text>
<rect x="64.3" y="409.2" width="15.9" height="49.9" fill="none" stroke="#141414" stroke-width="1.56"/>
<path d="M80.2,409.2 L120.6,409.2 L120.6,487.3 L65.2,487.3 L65.2,459.1" fill="none" stroke="#141414" stroke-width="1.56" stroke-linejoin="miter"/>
<line x1="83.9" y1="410.0" x2="83.9" y2="459.1" stroke="#666" stroke-width="1.32" stroke-dasharray="4 3.5" stroke-linecap="butt"/>
<line x1="80.2" y1="459.1" x2="120.6" y2="459.1" stroke="#666" stroke-width="1.32" stroke-dasharray="4 3.5" stroke-linecap="butt"/>
<line x1="62.4" y1="403.0" x2="118.2" y2="403.0" stroke="#a5a5a5" stroke-width="0.70" stroke-linecap="butt"/>
<path d="M60.4,403.0 l4.8,-1.7 l0,3.4 z M120.2,403.0 l-4.8,-1.7 l0,3.4 z" fill="#141414"/>
<text x="97.5" y="398.2" font-size="12.3" stroke="#222" stroke-width="0.38" textLength="21.5" lengthAdjust="spacingAndGlyphs" text-anchor="middle" fill="#222">100</text>
<line x1="52.7" y1="409.0" x2="52.7" y2="493.0" stroke="#b5b5b5" stroke-width="0.70" stroke-linecap="butt"/>
<path d="M52.7,407.0 l-1.7,4.8 l3.4,0 z M52.7,495.0 l-1.7,-4.8 l3.4,0 z" fill="#141414"/>
<text transform="translate(42.8,438.2) rotate(-90)" x="0" y="4.43" font-size="12.3" stroke="#222" stroke-width="0.38" textLength="22.0" lengthAdjust="spacingAndGlyphs" text-anchor="middle" fill="#222">107</text>
<text x="100.2" y="503.6" font-size="12.6" font-weight="700" stroke="#222" stroke-width="0.45" textLength="34.8" lengthAdjust="spacingAndGlyphs" text-anchor="middle" fill="#222">1ZPL</text>
<rect x="182.3" y="407.4" width="16.0" height="49.9" fill="none" stroke="#141414" stroke-width="1.56"/>
<path d="M182.3,407.4 L142.2,407.4 L142.2,485.1 L196.3,485.1 L196.3,457.3" fill="none" stroke="#141414" stroke-width="1.56" stroke-linejoin="miter"/>
<line x1="179.0" y1="408.0" x2="179.0" y2="457.3" stroke="#666" stroke-width="1.32" stroke-dasharray="4 3.5" stroke-linecap="butt"/>
<line x1="142.2" y1="457.3" x2="182.3" y2="457.3" stroke="#666" stroke-width="1.32" stroke-dasharray="4 3.5" stroke-linecap="butt"/>
<line x1="143.1" y1="403.0" x2="197.9" y2="403.0" stroke="#a5a5a5" stroke-width="0.70" stroke-linecap="butt"/>
<path d="M141.1,403.0 l4.8,-1.7 l0,3.4 z M199.9,403.0 l-4.8,-1.7 l0,3.4 z" fill="#141414"/>
<text x="171.3" y="396.8" font-size="12.3" stroke="#222" stroke-width="0.38" textLength="21.5" lengthAdjust="spacingAndGlyphs" text-anchor="middle" fill="#222">100</text>
<line x1="208.7" y1="408.3" x2="208.7" y2="488.6" stroke="#b5b5b5" stroke-width="0.70" stroke-linecap="butt"/>
<path d="M208.7,406.3 l-1.7,4.8 l3.4,0 z M208.7,490.6 l-1.7,-4.8 l3.4,0 z" fill="#141414"/>
<text transform="translate(215.5,448.8) rotate(90)" x="0" y="4.43" font-size="12.3" stroke="#222" stroke-width="0.38" textLength="22.0" lengthAdjust="spacingAndGlyphs" text-anchor="middle" fill="#222">107</text>
<text x="170.2" y="505.3" font-size="12.6" font-weight="700" stroke="#222" stroke-width="0.45" textLength="34.2" lengthAdjust="spacingAndGlyphs" text-anchor="middle" fill="#222">1ZPP</text>
<path d="M255.1,474.1 L255.1,489.4 L279.5,501.1 L359.4,491.4 L359.4,475.4" fill="none" stroke="#141414" stroke-width="1.50" stroke-linejoin="round" stroke-linecap="round"/>
<path d="M255.1,474.1 L279.5,487.5 L359.4,475.4" fill="none" stroke="#141414" stroke-width="1.50" stroke-linejoin="round" stroke-linecap="round"/>
<path d="M279.5,487.5 L279.5,501.1" fill="none" stroke="#141414" stroke-width="1.50" stroke-linejoin="round" stroke-linecap="round"/>
<path d="M255.1,474.1 L329.5,462.4" fill="none" stroke="#141414" stroke-width="1.50" stroke-linejoin="round" stroke-linecap="round"/>
<path d="M258.2,474.6 L280.6,485.0 L334.7,478.3" fill="none" stroke="#141414" stroke-width="1.25" stroke-linejoin="round" stroke-linecap="round"/>
<path d="M334.7,478.3 L352.0,476.2" fill="none" stroke="#141414" stroke-width="1.25" stroke-linejoin="round" stroke-linecap="round"/>
<path d="M256.3,490.3 L256.3,492.3 L260.5,494.3 L260.5,492.4 Z" fill="#333" stroke="#333" stroke-width="0.6" stroke-linejoin="round"/>
<path d="M275.5,500.3 L275.5,503.4 L283.6,503.2 L283.6,500.8 Z" fill="#333" stroke="#333" stroke-width="0.6" stroke-linejoin="round"/>
<path d="M351.8,492.3 L351.8,493.6 L358.0,492.9 L358.0,491.6 Z" fill="#333" stroke="#333" stroke-width="0.6" stroke-linejoin="round"/>
<path d="M314.8,441.5 L314.8,469.6" fill="none" stroke="#141414" stroke-width="1.62" stroke-linejoin="round" stroke-linecap="round"/>
<path d="M317.0,444.0 L317.0,469.4" fill="none" stroke="#141414" stroke-width="1.25" stroke-linejoin="round" stroke-linecap="round"/>
<path d="M310.2,471.2 L320.6,469.9" fill="none" stroke="#141414" stroke-width="3.00" stroke-linejoin="round" stroke-linecap="round"/>
<path d="M331.3,452.0 L331.3,478.8" fill="none" stroke="#141414" stroke-width="1.88" stroke-linejoin="round" stroke-linecap="round"/>
<path d="M333.2,455.0 L333.2,478.5" fill="none" stroke="#555" stroke-width="1.00" stroke-linejoin="round" stroke-linecap="round"/>
<path d="M334.9,456.0 L334.9,478.2" fill="none" stroke="#141414" stroke-width="1.12" stroke-linejoin="round" stroke-linecap="round"/>
<path d="M281.0,398.3 L301.8,407.7" fill="none" stroke="#141414" stroke-width="1.62" stroke-linejoin="round" stroke-linecap="round"/>
<path d="M281.0,398.3 L277.2,406.5 L301.0,419.8" fill="none" stroke="#141414" stroke-width="1.62" stroke-linejoin="round" stroke-linecap="round"/>
<path d="M303.7,412.8 L301.0,419.8" fill="none" stroke="#141414" stroke-width="1.50" stroke-linejoin="round" stroke-linecap="round"/>
<path d="M277.2,406.5 L278.4,408.6 L284.1,412.8 L314.3,441.0 L330.5,455.6" fill="none" stroke="#141414" stroke-width="1.62" stroke-linejoin="round" stroke-linecap="round"/>
<path d="M279.0,409.8 L284.0,413.6" fill="none" stroke="#141414" stroke-width="2.00" stroke-linejoin="round" stroke-linecap="round"/>
<path d="M332.0,453.2 L358.2,475.3" fill="none" stroke="#141414" stroke-width="1.62" stroke-linejoin="round" stroke-linecap="round"/>
<path d="M335.2,461.8 L358.2,475.3" fill="none" stroke="#141414" stroke-width="1.38" stroke-linejoin="round" stroke-linecap="round"/>
<path d="M301.0,419.8 L358.9,475.0" fill="none" stroke="#141414" stroke-width="1.62" stroke-linejoin="round" stroke-linecap="round"/>
<path d="M303.7,412.8 L351.6,452.6 L362.6,460.6 L365.0,463.4 L361.8,468.1 L358.7,475.5" fill="none" stroke="#141414" stroke-width="1.62" stroke-linejoin="round" stroke-linecap="round"/>
<path d="M301.2,405.6 L301.8,407.7 L312.7,415.6 L354.8,458.3" fill="none" stroke="#141414" stroke-width="1.50" stroke-linejoin="round" stroke-linecap="round"/>
<path d="M354.8,456.4 L359.5,460.0" fill="none" stroke="#141414" stroke-width="1.38" stroke-linejoin="round" stroke-linecap="round"/>
<path d="M313.5,416.4 L319.0,399.4 L372.0,448.9 L361.8,458.7" fill="none" stroke="#141414" stroke-width="1.62" stroke-linejoin="round" stroke-linecap="round"/>
<path d="M321.3,401.6 L315.6,417.0" fill="none" stroke="#141414" stroke-width="1.38" stroke-linejoin="round" stroke-linecap="round"/>
<path d="M313.5,416.4 L358.7,456.4" fill="none" stroke="#141414" stroke-width="1.50" stroke-linejoin="round" stroke-linecap="round"/>
<path d="M333.8,414.8 L326.7,426.3" fill="none" stroke="#141414" stroke-width="1.50" stroke-linejoin="round" stroke-linecap="round"/>
<path d="M349.3,429.7 L340.7,440.7" fill="none" stroke="#141414" stroke-width="1.50" stroke-linejoin="round" stroke-linecap="round"/>
<path d="M368.5,447.0 L358.7,456.4" fill="none" stroke="#141414" stroke-width="1.38" stroke-linejoin="round" stroke-linecap="round"/>
<path d="M424.2,473.0 L424.2,489.3 L450.2,504.0 L499.6,497.5 L499.6,480.6" fill="none" stroke="#141414" stroke-width="1.50" stroke-linejoin="round" stroke-linecap="round"/>
<path d="M424.2,473.0 L450.2,487.2 L499.6,480.6" fill="none" stroke="#141414" stroke-width="1.50" stroke-linejoin="round" stroke-linecap="round"/>
<path d="M450.2,487.2 L450.2,504.0" fill="none" stroke="#141414" stroke-width="1.50" stroke-linejoin="round" stroke-linecap="round"/>
<path d="M424.2,473.0 L454.7,467.7 L466.0,466.0" fill="none" stroke="#141414" stroke-width="1.50" stroke-linejoin="round" stroke-linecap="round"/>
<path d="M488.4,475.4 L499.6,480.6" fill="none" stroke="#141414" stroke-width="1.50" stroke-linejoin="round" stroke-linecap="round"/>
<path d="M426.9,474.1 L450.6,485.4 L483.1,481.3" fill="none" stroke="#141414" stroke-width="1.25" stroke-linejoin="round" stroke-linecap="round"/>
<path d="M467.5,485.1 L479.4,483.2" fill="none" stroke="#141414" stroke-width="1.25" stroke-linejoin="round" stroke-linecap="round"/>
<path d="M426.2,490.3 L426.2,492.0 L429.7,493.7 L429.7,492.0 Z" fill="#333" stroke="#333" stroke-width="0.6" stroke-linejoin="round"/>
<path d="M446.1,502.2 L446.1,505.0 L455.0,504.8 L455.0,503.0 Z" fill="#333" stroke="#333" stroke-width="0.6" stroke-linejoin="round"/>
<path d="M492.6,498.6 L492.6,499.8 L497.9,499.0 L497.9,497.8 Z" fill="#333" stroke="#333" stroke-width="0.6" stroke-linejoin="round"/>
<path d="M449.7,458.8 L449.7,475.0" fill="none" stroke="#141414" stroke-width="1.88" stroke-linejoin="round" stroke-linecap="round"/>
<path d="M451.3,461.0 L451.3,474.6" fill="none" stroke="#141414" stroke-width="1.12" stroke-linejoin="round" stroke-linecap="round"/>
<path d="M443.6,477.3 L455.2,475.0" fill="none" stroke="#141414" stroke-width="3.00" stroke-linejoin="round" stroke-linecap="round"/>
<path d="M467.1,465.5 L467.1,485.0" fill="none" stroke="#141414" stroke-width="1.75" stroke-linejoin="round" stroke-linecap="round"/>
<path d="M468.6,468.5 L468.6,484.8" fill="none" stroke="#141414" stroke-width="1.12" stroke-linejoin="round" stroke-linecap="round"/>
<path d="M456.1,444.9 L430.1,428.9 L426.4,437.5 L452.4,452.6" fill="none" stroke="#141414" stroke-width="1.62" stroke-linejoin="round" stroke-linecap="round"/>
<path d="M456.1,444.9 L452.4,452.6" fill="none" stroke="#141414" stroke-width="1.50" stroke-linejoin="round" stroke-linecap="round"/>
<path d="M426.4,437.5 L427.6,439.2 L431.9,442.6 L448.3,457.6 L455.6,465.2" fill="none" stroke="#141414" stroke-width="1.62" stroke-linejoin="round" stroke-linecap="round"/>
<path d="M444.7,455.4 L454.7,465.0" fill="none" stroke="#141414" stroke-width="2.50" stroke-linejoin="round" stroke-linecap="round"/>
<path d="M460.2,462.2 L481.2,482.8" fill="none" stroke="#141414" stroke-width="1.50" stroke-linejoin="round" stroke-linecap="round"/>
<path d="M452.4,452.6 L482.4,482.2" fill="none" stroke="#141414" stroke-width="1.62" stroke-linejoin="round" stroke-linecap="round"/>
<path d="M456.1,444.9 L487.6,475.9 L484.9,481.4" fill="none" stroke="#141414" stroke-width="1.62" stroke-linejoin="round" stroke-linecap="round"/>
<path d="M452.9,438.5 L454.3,438.0 L460.2,441.7 L461.8,445.6" fill="none" stroke="#141414" stroke-width="1.50" stroke-linejoin="round" stroke-linecap="round"/>
<path d="M452.9,438.5 L453.6,442.0" fill="none" stroke="#141414" stroke-width="1.38" stroke-linejoin="round" stroke-linecap="round"/>
<path d="M460.2,440.3 L465.2,427.9 L482.2,441.2 L476.2,459.5" fill="none" stroke="#141414" stroke-width="1.62" stroke-linejoin="round" stroke-linecap="round"/>
<path d="M467.5,430.0 L463.0,442.6" fill="none" stroke="#141414" stroke-width="1.38" stroke-linejoin="round" stroke-linecap="round"/>
<path d="M463.0,443.9 L478.5,452.6" fill="none" stroke="#141414" stroke-width="1.50" stroke-linejoin="round" stroke-linecap="round"/>
<path d="M462.5,446.6 L476.2,459.5" fill="none" stroke="#141414" stroke-width="1.50" stroke-linejoin="round" stroke-linecap="round"/>

<text x="355.7" y="402.0" font-size="12.6" font-weight="700" stroke="#222" stroke-width="0.45" textLength="41.6" lengthAdjust="spacingAndGlyphs" text-anchor="middle" fill="#222">x1ZPP</text>
<line x1="253.5" y1="513.5" x2="369.8" y2="513.5" stroke="#a5a5a5" stroke-width="0.70" stroke-linecap="butt"/>
<path d="M251.5,513.5 l4.8,-1.7 l0,3.4 z M371.8,513.5 l-4.8,-1.7 l0,3.4 z" fill="#141414"/>
<text x="296.8" y="525.3" font-size="13.2" stroke="#222" stroke-width="0.38" textLength="22.6" lengthAdjust="spacingAndGlyphs" text-anchor="middle" fill="#222">203</text>
<text x="467.4" y="404.8" font-size="12.6" font-weight="700" stroke="#222" stroke-width="0.45" textLength="33.5" lengthAdjust="spacingAndGlyphs" text-anchor="middle" fill="#222">1ZPP</text>
<line x1="429.1" y1="514.5" x2="499.5" y2="514.5" stroke="#a5a5a5" stroke-width="0.70" stroke-linecap="butt"/>
<path d="M427.1,514.5 l4.8,-1.7 l0,3.4 z M501.5,514.5 l-4.8,-1.7 l0,3.4 z" fill="#141414"/>
<text x="461.7" y="528.0" font-size="13.2" stroke="#222" stroke-width="0.38" textLength="22.0" lengthAdjust="spacingAndGlyphs" text-anchor="middle" fill="#222">107</text>
<rect x="593.0" y="463.0" width="79.6" height="36.2" fill="none" stroke="#141414" stroke-width="1.56"/>
<rect x="584.6" y="463.0" width="8.4" height="34.2" fill="none" stroke="#141414" stroke-width="1.44"/>
<line x1="593.0" y1="470.6" x2="672.6" y2="470.6" stroke="#141414" stroke-width="1.98" stroke-linecap="butt"/>
<line x1="595.0" y1="476.2" x2="671.6" y2="476.2" stroke="#6e6e6e" stroke-width="1.38" stroke-dasharray="3.6 4.2" stroke-linecap="butt"/>
<line x1="632.8" y1="463.0" x2="632.8" y2="499.2" stroke="#141414" stroke-width="1.68" stroke-linecap="butt"/>
<path d="M593.8,500.2 L593.8,532.8 L672.4,532.8 L672.4,500.2" fill="none" stroke="#1a1a1a" stroke-width="1.56" stroke-dasharray="8 5.5" stroke-linejoin="miter"/>
<line x1="580.2" y1="457.2" x2="672.8" y2="457.2" stroke="#a5a5a5" stroke-width="0.70" stroke-linecap="butt"/>
<ellipse cx="580.2" cy="457.2" rx="2" ry="1.2" fill="#141414"/><ellipse cx="672.8" cy="457.2" rx="2" ry="1.2" fill="#141414"/>
<text x="630.8" y="450.4" font-size="9.8" font-weight="700" stroke="#222" stroke-width="0.25" textLength="15.0" lengthAdjust="spacingAndGlyphs" text-anchor="middle" fill="#222">131</text>
<line x1="579.0" y1="486.6" x2="579.0" y2="531.6" stroke="#b5b5b5" stroke-width="0.70" stroke-linecap="butt"/>
<ellipse cx="579.0" cy="486.6" rx="1.2" ry="2" fill="#141414"/><ellipse cx="579.0" cy="531.6" rx="1.2" ry="2" fill="#141414"/>
<text transform="translate(572.6,506.2) rotate(-90)" x="0" y="3.53" font-size="9.8" font-weight="700" stroke="#222" stroke-width="0.25" textLength="15.0" lengthAdjust="spacingAndGlyphs" text-anchor="middle" fill="#222">120</text>
<text x="635.3" y="551.0" font-size="12.5" font-weight="700" stroke="#222" stroke-width="0.45" textLength="67.8" lengthAdjust="spacingAndGlyphs" text-anchor="middle" fill="#222">2RDelfinL</text>
<rect x="714.9" y="463.0" width="80.3" height="36.2" fill="none" stroke="#141414" stroke-width="1.56"/>
<rect x="795.2" y="463.0" width="7.9" height="33.6" fill="none" stroke="#141414" stroke-width="1.44"/>
<line x1="714.9" y1="471.2" x2="795.2" y2="471.2" stroke="#141414" stroke-width="1.98" stroke-linecap="butt"/>
<line x1="716.9" y1="476.8" x2="794.2" y2="476.8" stroke="#6e6e6e" stroke-width="1.38" stroke-dasharray="3.6 4.2" stroke-linecap="butt"/>
<line x1="755.2" y1="463.0" x2="755.2" y2="499.2" stroke="#141414" stroke-width="1.68" stroke-linecap="butt"/>
<path d="M715.4,500.2 L715.4,531.6 L795.0,531.6 L795.0,500.2" fill="none" stroke="#1a1a1a" stroke-width="1.56" stroke-dasharray="8 5.5" stroke-linejoin="miter"/>
<line x1="707.6" y1="457.2" x2="803.9" y2="457.2" stroke="#a5a5a5" stroke-width="0.70" stroke-linecap="butt"/>
<ellipse cx="707.6" cy="457.2" rx="2" ry="1.2" fill="#141414"/><ellipse cx="803.9" cy="457.2" rx="2" ry="1.2" fill="#141414"/>
<text x="753.2" y="450.4" font-size="9.8" font-weight="700" stroke="#222" stroke-width="0.25" textLength="15.0" lengthAdjust="spacingAndGlyphs" text-anchor="middle" fill="#222">131</text>
<line x1="808.7" y1="485.2" x2="808.7" y2="532.2" stroke="#b5b5b5" stroke-width="0.70" stroke-linecap="butt"/>
<ellipse cx="808.7" cy="485.2" rx="1.2" ry="2" fill="#141414"/><ellipse cx="808.7" cy="532.2" rx="1.2" ry="2" fill="#141414"/>
<text transform="translate(814.3,509.8) rotate(90)" x="0" y="3.53" font-size="9.8" font-weight="700" stroke="#222" stroke-width="0.25" textLength="15.0" lengthAdjust="spacingAndGlyphs" text-anchor="middle" fill="#222">120</text>
<text x="756.4" y="551.0" font-size="12.5" font-weight="700" stroke="#222" stroke-width="0.45" textLength="69.0" lengthAdjust="spacingAndGlyphs" text-anchor="middle" fill="#222">2RDelfinP</text>
<rect x="72.4" y="602.5" width="114.8" height="40.2" fill="none" stroke="#141414" stroke-width="1.56"/>
<rect x="60.2" y="602.5" width="12.2" height="36.5" fill="none" stroke="#141414" stroke-width="1.44"/>
<line x1="72.4" y1="612.1" x2="187.2" y2="612.1" stroke="#141414" stroke-width="1.98" stroke-linecap="butt"/>
<line x1="74.4" y1="615.9" x2="186.2" y2="615.9" stroke="#6e6e6e" stroke-width="1.38" stroke-dasharray="3.6 4.2" stroke-linecap="butt"/>
<line x1="129.6" y1="602.5" x2="129.6" y2="642.7" stroke="#141414" stroke-width="1.68" stroke-linecap="butt"/>
<path d="M72.6,643.7 L72.6,678.3 L187.0,678.3 L187.0,643.7" fill="none" stroke="#1a1a1a" stroke-width="1.56" stroke-dasharray="8 5.5" stroke-linejoin="miter"/>
<line x1="60.9" y1="593.3" x2="185.5" y2="593.3" stroke="#a5a5a5" stroke-width="0.70" stroke-linecap="butt"/>
<path d="M58.9,593.3 l4.8,-1.7 l0,3.4 z M187.5,593.3 l-4.8,-1.7 l0,3.4 z" fill="#141414"/>
<text x="129.9" y="586.6" font-size="9.8" font-weight="700" stroke="#222" stroke-width="0.25" textLength="15.2" lengthAdjust="spacingAndGlyphs" text-anchor="middle" fill="#222">151</text>
<line x1="51.9" y1="625.8" x2="51.9" y2="678.5" stroke="#b5b5b5" stroke-width="0.70" stroke-linecap="butt"/>
<ellipse cx="51.9" cy="625.8" rx="1.2" ry="2" fill="#141414"/><ellipse cx="51.9" cy="678.5" rx="1.2" ry="2" fill="#141414"/>
<text transform="translate(40.8,645.1) rotate(-90)" x="0" y="3.53" font-size="9.8" font-weight="700" stroke="#222" stroke-width="0.25" textLength="15.5" lengthAdjust="spacingAndGlyphs" text-anchor="middle" fill="#222">120</text>
<text x="129.0" y="695.7" font-size="13" font-weight="700" stroke="#222" stroke-width="0.45" textLength="81.7" lengthAdjust="spacingAndGlyphs" text-anchor="middle" fill="#222">2,5RDelfinL</text>
<rect x="215.0" y="602.5" width="115.7" height="40.2" fill="none" stroke="#141414" stroke-width="1.56"/>
<rect x="330.7" y="602.5" width="11.8" height="36.5" fill="none" stroke="#141414" stroke-width="1.44"/>
<line x1="215.0" y1="612.4" x2="330.7" y2="612.4" stroke="#141414" stroke-width="1.98" stroke-linecap="butt"/>
<line x1="217.0" y1="616.2" x2="329.7" y2="616.2" stroke="#6e6e6e" stroke-width="1.38" stroke-dasharray="3.6 4.2" stroke-linecap="butt"/>
<line x1="273.1" y1="602.5" x2="273.1" y2="642.7" stroke="#141414" stroke-width="1.68" stroke-linecap="butt"/>
<path d="M216.1,643.7 L216.1,678.3 L330.3,678.3 L330.3,643.7" fill="none" stroke="#1a1a1a" stroke-width="1.56" stroke-dasharray="8 5.5" stroke-linejoin="miter"/>
<line x1="214.4" y1="593.3" x2="339.6" y2="593.3" stroke="#a5a5a5" stroke-width="0.70" stroke-linecap="butt"/>
<path d="M212.4,593.3 l4.8,-1.7 l0,3.4 z M341.6,593.3 l-4.8,-1.7 l0,3.4 z" fill="#141414"/>
<text x="271.5" y="586.2" font-size="9.8" font-weight="700" stroke="#222" stroke-width="0.25" textLength="15.5" lengthAdjust="spacingAndGlyphs" text-anchor="middle" fill="#222">151</text>
<line x1="348.9" y1="625.8" x2="348.9" y2="678.5" stroke="#b5b5b5" stroke-width="0.70" stroke-linecap="butt"/>
<ellipse cx="348.9" cy="625.8" rx="1.2" ry="2" fill="#141414"/><ellipse cx="348.9" cy="678.5" rx="1.2" ry="2" fill="#141414"/>
<text transform="translate(358.8,646.1) rotate(90)" x="0" y="3.53" font-size="9.8" font-weight="700" stroke="#222" stroke-width="0.25" textLength="15.5" lengthAdjust="spacingAndGlyphs" text-anchor="middle" fill="#222">120</text>
<text x="274.9" y="696.2" font-size="13" font-weight="700" stroke="#222" stroke-width="0.45" textLength="82.2" lengthAdjust="spacingAndGlyphs" text-anchor="middle" fill="#222">2,5RDelfinP</text>
<rect x="413.8" y="602.2" width="80.6" height="40.0" fill="none" stroke="#141414" stroke-width="1.56"/>
<rect x="405.5" y="602.2" width="8.3" height="37.4" fill="none" stroke="#141414" stroke-width="1.44"/>
<line x1="413.8" y1="612.3" x2="494.4" y2="612.3" stroke="#141414" stroke-width="1.98" stroke-linecap="butt"/>
<line x1="415.8" y1="616.2" x2="493.4" y2="616.2" stroke="#6e6e6e" stroke-width="1.38" stroke-dasharray="3.6 4.2" stroke-linecap="butt"/>
<line x1="454.1" y1="602.2" x2="454.1" y2="642.2" stroke="#141414" stroke-width="1.68" stroke-linecap="butt"/>
<path d="M417.2,643.2 L417.2,715.3 L490.5,715.3 L490.5,643.2" fill="none" stroke="#1a1a1a" stroke-width="1.56" stroke-dasharray="8 5.5" stroke-linejoin="miter"/>
<line x1="406.7" y1="597.0" x2="492.4" y2="597.0" stroke="#a5a5a5" stroke-width="0.70" stroke-linecap="butt"/>
<ellipse cx="406.7" cy="597.0" rx="2" ry="1.2" fill="#141414"/><ellipse cx="492.4" cy="597.0" rx="2" ry="1.2" fill="#141414"/>
<text x="454.9" y="592.8" font-size="9.8" font-weight="700" stroke="#222" stroke-width="0.25" textLength="15.5" lengthAdjust="spacingAndGlyphs" text-anchor="middle" fill="#222">131</text>
<line x1="395.6" y1="624.7" x2="395.6" y2="711.7" stroke="#b5b5b5" stroke-width="0.70" stroke-linecap="butt"/>
<ellipse cx="395.6" cy="624.7" rx="1.2" ry="2" fill="#141414"/><ellipse cx="395.6" cy="711.7" rx="1.2" ry="2" fill="#141414"/>
<text transform="translate(389.9,671.1) rotate(-90)" x="0" y="3.53" font-size="9.8" font-weight="700" stroke="#222" stroke-width="0.25" textLength="15.5" lengthAdjust="spacingAndGlyphs" text-anchor="middle" fill="#222">197</text>
<line x1="422.3" y1="685.1" x2="482.5" y2="685.1" stroke="#a5a5a5" stroke-width="0.70" stroke-linecap="butt"/>
<path d="M420.3,685.1 l4.8,-1.7 l0,3.4 z M484.5,685.1 l-4.8,-1.7 l0,3.4 z" fill="#141414"/>
<text x="449.4" y="678.1" font-size="9.8" font-weight="700" stroke="#222" stroke-width="0.25" textLength="10.5" lengthAdjust="spacingAndGlyphs" text-anchor="middle" fill="#222">97</text>
<text x="454.8" y="732.7" font-size="12.5" font-weight="700" stroke="#222" stroke-width="0.45" textLength="50.7" lengthAdjust="spacingAndGlyphs" text-anchor="middle" fill="#222">2RLuxL</text>
<rect x="511.3" y="602.2" width="80.6" height="40.0" fill="none" stroke="#141414" stroke-width="1.56"/>
<rect x="591.9" y="602.2" width="8.6" height="36.9" fill="none" stroke="#141414" stroke-width="1.44"/>
<line x1="511.3" y1="612.3" x2="591.9" y2="612.3" stroke="#141414" stroke-width="1.98" stroke-linecap="butt"/>
<line x1="513.3" y1="616.2" x2="590.9" y2="616.2" stroke="#6e6e6e" stroke-width="1.38" stroke-dasharray="3.6 4.2" stroke-linecap="butt"/>
<line x1="551.6" y1="602.2" x2="551.6" y2="642.2" stroke="#141414" stroke-width="1.68" stroke-linecap="butt"/>
<path d="M515.2,643.2 L515.2,715.3 L585.4,715.3 L585.4,643.2" fill="none" stroke="#1a1a1a" stroke-width="1.56" stroke-dasharray="8 5.5" stroke-linejoin="miter"/>
<line x1="513.3" y1="597.0" x2="599.0" y2="597.0" stroke="#a5a5a5" stroke-width="0.70" stroke-linecap="butt"/>
<ellipse cx="513.3" cy="597.0" rx="2" ry="1.2" fill="#141414"/><ellipse cx="599.0" cy="597.0" rx="2" ry="1.2" fill="#141414"/>
<text x="552.4" y="593.4" font-size="9.8" font-weight="700" stroke="#222" stroke-width="0.25" textLength="15.5" lengthAdjust="spacingAndGlyphs" text-anchor="middle" fill="#222">131</text>
<line x1="606.2" y1="622.1" x2="606.2" y2="709.9" stroke="#b5b5b5" stroke-width="0.70" stroke-linecap="butt"/>
<ellipse cx="606.2" cy="622.1" rx="1.2" ry="2" fill="#141414"/><ellipse cx="606.2" cy="709.9" rx="1.2" ry="2" fill="#141414"/>
<text transform="translate(615.3,669.0) rotate(90)" x="0" y="3.53" font-size="9.8" font-weight="700" stroke="#222" stroke-width="0.25" textLength="16.0" lengthAdjust="spacingAndGlyphs" text-anchor="middle" fill="#222">197</text>
<line x1="520.3" y1="684.6" x2="580.3" y2="684.6" stroke="#a5a5a5" stroke-width="0.70" stroke-linecap="butt"/>
<path d="M518.3,684.6 l4.8,-1.7 l0,3.4 z M582.3,684.6 l-4.8,-1.7 l0,3.4 z" fill="#141414"/>
<text x="546.9" y="677.6" font-size="9.8" font-weight="700" stroke="#222" stroke-width="0.25" textLength="10.5" lengthAdjust="spacingAndGlyphs" text-anchor="middle" fill="#222">97</text>
<text x="554.9" y="732.7" font-size="12.5" font-weight="700" stroke="#222" stroke-width="0.45" textLength="53.3" lengthAdjust="spacingAndGlyphs" text-anchor="middle" fill="#222">2RLuxP</text>
<rect x="674.1" y="602.9" width="112.8" height="43.6" fill="none" stroke="#141414" stroke-width="1.56"/>
<rect x="661.9" y="607.9" width="12.2" height="37.3" fill="none" stroke="#141414" stroke-width="1.44"/>
<line x1="674.1" y1="612.4" x2="786.9" y2="612.4" stroke="#141414" stroke-width="1.98" stroke-linecap="butt"/>
<line x1="676.1" y1="616.4" x2="785.9" y2="616.4" stroke="#6e6e6e" stroke-width="1.38" stroke-dasharray="3.6 4.2" stroke-linecap="butt"/>
<line x1="712.0" y1="602.9" x2="712.0" y2="646.5" stroke="#141414" stroke-width="1.68" stroke-linecap="butt"/>
<line x1="749.6" y1="602.9" x2="749.6" y2="646.5" stroke="#141414" stroke-width="1.68" stroke-linecap="butt"/>
<path d="M677.8,647.5 L677.8,714.4 L784.0,714.4 L784.0,647.5" fill="none" stroke="#1a1a1a" stroke-width="1.56" stroke-dasharray="8 5.5" stroke-linejoin="miter"/>
<line x1="662.0" y1="597.4" x2="784.9" y2="597.4" stroke="#a5a5a5" stroke-width="0.70" stroke-linecap="butt"/>
<path d="M660.0,597.4 l4.8,-1.7 l0,3.4 z M786.9,597.4 l-4.8,-1.7 l0,3.4 z" fill="#141414"/>
<text x="731.2" y="592.4" font-size="9.8" font-weight="700" stroke="#222" stroke-width="0.25" textLength="16.0" lengthAdjust="spacingAndGlyphs" text-anchor="middle" fill="#222">186</text>
<line x1="655.6" y1="623.2" x2="655.6" y2="710.8" stroke="#b5b5b5" stroke-width="0.70" stroke-linecap="butt"/>
<path d="M655.6,621.2 l-1.7,4.8 l3.4,0 z M655.6,712.8 l-1.7,-4.8 l3.4,0 z" fill="#141414"/>
<text transform="translate(645.8,668.0) rotate(-90)" x="0" y="3.53" font-size="9.8" font-weight="700" stroke="#222" stroke-width="0.25" textLength="15.5" lengthAdjust="spacingAndGlyphs" text-anchor="middle" fill="#222">197</text>
<line x1="682.0" y1="684.6" x2="779.6" y2="684.6" stroke="#a5a5a5" stroke-width="0.70" stroke-linecap="butt"/>
<path d="M680.0,684.6 l4.8,-1.7 l0,3.4 z M781.6,684.6 l-4.8,-1.7 l0,3.4 z" fill="#141414"/>
<text x="736.0" y="677.2" font-size="9.8" font-weight="700" stroke="#222" stroke-width="0.25" textLength="15.5" lengthAdjust="spacingAndGlyphs" text-anchor="middle" fill="#222">152</text>
<text x="741.6" y="736.2" font-size="12.5" font-weight="700" stroke="#222" stroke-width="0.45" textLength="51.6" lengthAdjust="spacingAndGlyphs" text-anchor="middle" fill="#222">3RLuxL</text>
<rect x="808.6" y="602.9" width="113.0" height="43.6" fill="none" stroke="#141414" stroke-width="1.56"/>
<rect x="921.6" y="607.9" width="11.2" height="37.3" fill="none" stroke="#141414" stroke-width="1.44"/>
<line x1="808.6" y1="612.4" x2="921.6" y2="612.4" stroke="#141414" stroke-width="1.98" stroke-linecap="butt"/>
<line x1="810.6" y1="616.4" x2="920.6" y2="616.4" stroke="#6e6e6e" stroke-width="1.38" stroke-dasharray="3.6 4.2" stroke-linecap="butt"/>
<line x1="846.4" y1="602.9" x2="846.4" y2="646.5" stroke="#141414" stroke-width="1.68" stroke-linecap="butt"/>
<line x1="883.8" y1="602.9" x2="883.8" y2="646.5" stroke="#141414" stroke-width="1.68" stroke-linecap="butt"/>
<path d="M811.4,647.5 L811.4,714.4 L918.4,714.4 L918.4,647.5" fill="none" stroke="#1a1a1a" stroke-width="1.56" stroke-dasharray="8 5.5" stroke-linejoin="miter"/>
<line x1="810.6" y1="597.4" x2="931.8" y2="597.4" stroke="#a5a5a5" stroke-width="0.70" stroke-linecap="butt"/>
<path d="M808.6,597.4 l4.8,-1.7 l0,3.4 z M933.8,597.4 l-4.8,-1.7 l0,3.4 z" fill="#141414"/>
<text x="866.6" y="593.4" font-size="9.8" font-weight="700" stroke="#222" stroke-width="0.25" textLength="16.0" lengthAdjust="spacingAndGlyphs" text-anchor="middle" fill="#222">186</text>
<line x1="940.2" y1="624.0" x2="940.2" y2="710.8" stroke="#b5b5b5" stroke-width="0.70" stroke-linecap="butt"/>
<path d="M940.2,622.0 l-1.7,4.8 l3.4,0 z M940.2,712.8 l-1.7,-4.8 l3.4,0 z" fill="#141414"/>
<text transform="translate(949.4,669.0) rotate(90)" x="0" y="3.53" font-size="9.8" font-weight="700" stroke="#222" stroke-width="0.25" textLength="15.5" lengthAdjust="spacingAndGlyphs" text-anchor="middle" fill="#222">197</text>
<line x1="814.8" y1="685.0" x2="913.8" y2="685.0" stroke="#a5a5a5" stroke-width="0.70" stroke-linecap="butt"/>
<path d="M812.8,685.0 l4.8,-1.7 l0,3.4 z M915.8,685.0 l-4.8,-1.7 l0,3.4 z" fill="#141414"/>
<text x="866.6" y="677.6" font-size="9.8" font-weight="700" stroke="#222" stroke-width="0.25" textLength="15.5" lengthAdjust="spacingAndGlyphs" text-anchor="middle" fill="#222">152</text>
<text x="868.0" y="741.6" font-size="12.5" font-weight="700" stroke="#222" stroke-width="0.45" textLength="52.8" lengthAdjust="spacingAndGlyphs" text-anchor="middle" fill="#222">3RLuxP</text>
</g>
</svg>
</body></html>
